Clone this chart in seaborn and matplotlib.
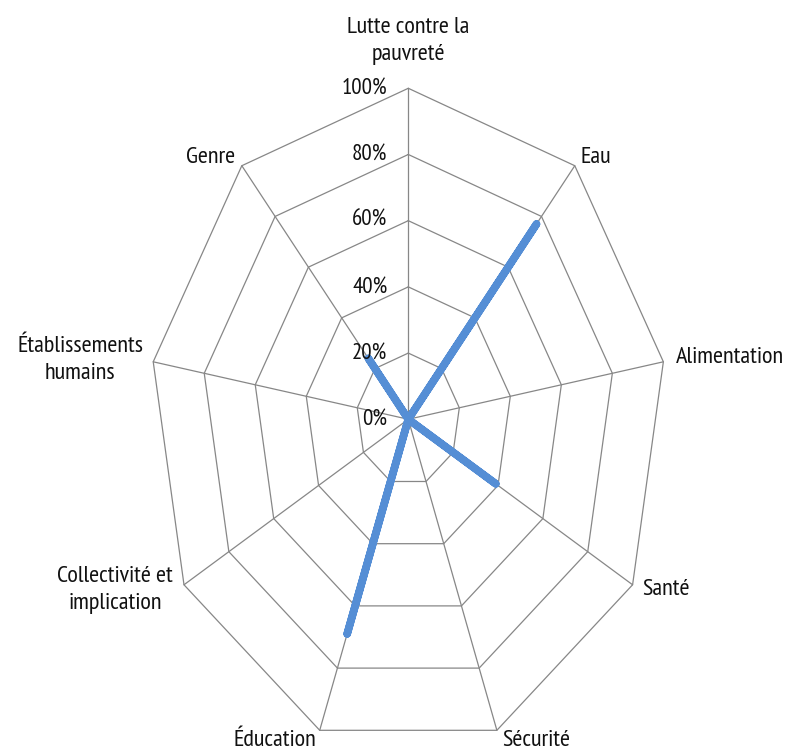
import numpy as np
import pandas as pd
import matplotlib
matplotlib.use("Agg")
import matplotlib.pyplot as plt
import seaborn as sns

# Data
categories = ["Lutte contre la\npauvreté", "Eau", "Alimentation", "Santé", "Sécurité",
              "Éducation", "Collectivité et\nimplication", "Établissements\nhumains", "Genre"]
values = [0, 77, 0, 39, 0, 69, 0, 0, 24]
levels = [0, 20, 40, 60, 80, 100]
level_labels = ["0%", "20%", "40%", "60%", "80%", "100%"]

# label placement (pixel offset from the 100% vertex, alignment)
label_pos = [(0, 47, "center"), (6, 8, "left"), (13, 4, "left"), (10, -5, "left"),
             (5, -10, "left"), (-3, -10, "right"), (-11, -5, "right"),
             (-10, 2, "right"), (-7, 8, "right")]

sns.set_theme(style="white")
plt.rcParams["font.family"] = ["PT Sans Narrow", "DejaVu Sans"]

line_color = "#558ED5"
grid_color = "#878787"

n = len(categories)
theta = np.linspace(0, 2 * np.pi, n, endpoint=False)
theta_closed = np.append(theta, theta[0])

df = pd.DataFrame({"theta": theta_closed, "value": values + values[:1]})

fig = plt.figure(figsize=(7.87, 7.52), dpi=100)
ax = fig.add_axes([0.1897, 0.0023, 0.6582, 0.8803], projection="polar")
ax.set_aspect("auto")
ax.set_theta_zero_location("N")
ax.set_theta_direction(-1)

# polygon grid
for lv in levels[1:]:
    ax.plot(theta_closed, [lv] * (n + 1), color=grid_color, lw=0.9, clip_on=False, zorder=1)
for t in theta:
    ax.plot([t, t], [0, 100], color=grid_color, lw=0.9, clip_on=False, zorder=1)

# data line
sns.lineplot(data=df, x="theta", y="value", sort=False, estimator=None, ax=ax,
             color=line_color, linewidth=5.5, solid_capstyle="round",
             solid_joinstyle="round", zorder=3)

ax.set_ylim(0, 100)
ax.grid(False)
ax.set_xticks([])
ax.set_yticks([])
ax.spines["polar"].set_visible(False)
ax.set_xlabel("")
ax.set_ylabel("")

# radial tick labels
for lv, lab in zip(levels, level_labels):
    ax.annotate(lab, xy=(0, lv), xytext=(-21, 0), textcoords="offset pixels",
                ha="right", va="center", fontsize=16.5, color="#111111",
                annotation_clip=False)

# category labels
for t, lab, (dx, dy, ha) in zip(theta, categories, label_pos):
    ax.annotate(lab, xy=(t, 100), xytext=(dx, dy), textcoords="offset pixels",
                ha=ha, va="center", multialignment="center", fontsize=17.5,
                color="#111111", linespacing=1.38, annotation_clip=False)

fig.savefig("out.png", dpi=100, facecolor="white")
